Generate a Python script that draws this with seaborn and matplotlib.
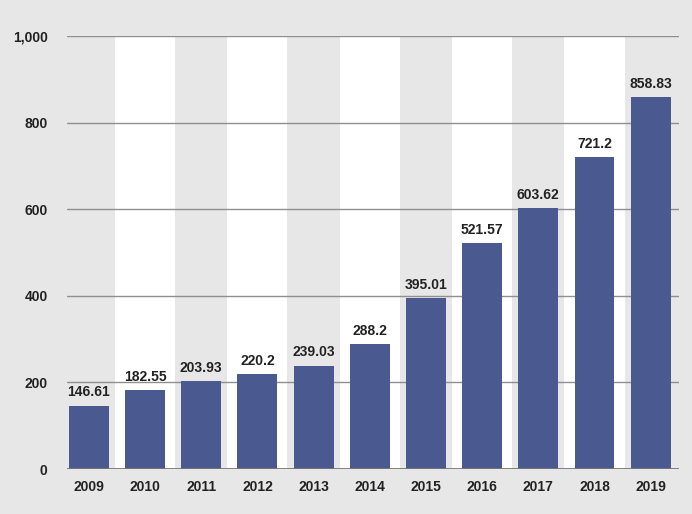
import matplotlib
matplotlib.use("Agg")
import matplotlib.pyplot as plt
import seaborn as sns
import pandas as pd
from matplotlib import font_manager

years = ["2009", "2010", "2011", "2012", "2013", "2014", "2015", "2016", "2017", "2018", "2019"]
values = [146.61, 182.55, 203.93, 220.2, 239.03, 288.2, 395.01, 521.57, 603.62, 721.2, 858.83]
labels = ["146.61", "182.55", "203.93", "220.2", "239.03", "288.2", "395.01", "521.57", "603.62", "721.2", "858.83"]
yticks = [0, 200, 400, 600, 800, 1000]
ytick_labels = ["0", "200", "400", "600", "800", "1,000"]

sns.set_theme(style="white")
names = {f.name for f in font_manager.fontManager.ttflist}
fam = ["Liberation Sans Narrow"] if "Liberation Sans Narrow" in names else ["Liberation Sans"]
plt.rcParams["font.family"] = fam + ["DejaVu Sans"]

bg = "#e7e7e7"
bar_color = "#4a5a91"
df = pd.DataFrame({"year": years, "value": values})

fig = plt.figure(figsize=(6.92, 5.14), dpi=100, facecolor=bg)
ax = fig.add_axes([0.0968, 0.0875, 0.884, 0.8425])
ax.set_facecolor(bg)

for i in range(1, len(years), 2):
    ax.axvspan(i - 0.535, i + 0.535, color="white", zorder=0, lw=0)
for t in yticks[1:]:
    ax.axhline(t, color="#8f8f8f", lw=1.0, zorder=1)
ax.axhline(0, color="#777777", lw=1.3, zorder=3)

sns.barplot(data=df, x="year", y="value", color=bar_color, saturation=1,
            width=0.71, ax=ax, zorder=2, linewidth=0, edgecolor="none")

for i, (v, lab) in enumerate(zip(values, labels)):
    ax.text(i, v + 14, lab, ha="center", va="bottom", fontsize=10,
            fontweight="bold", color="#222222", zorder=4)

ax.set_xlim(-0.39, 10.5)
ax.set_ylim(0, 1000)
ax.set_yticks(yticks)
ax.set_yticklabels(ytick_labels)
ax.set_xlabel("")
ax.set_ylabel("")
for s in ax.spines.values():
    s.set_visible(False)
ax.tick_params(axis="both", length=0, labelsize=10, colors="#222222")
ax.tick_params(axis="y", pad=14)
ax.tick_params(axis="x", pad=8)
for lab in ax.get_xticklabels() + ax.get_yticklabels():
    lab.set_fontweight("bold")
ax.grid(False)

fig.savefig("out.png", dpi=100, facecolor=bg)
